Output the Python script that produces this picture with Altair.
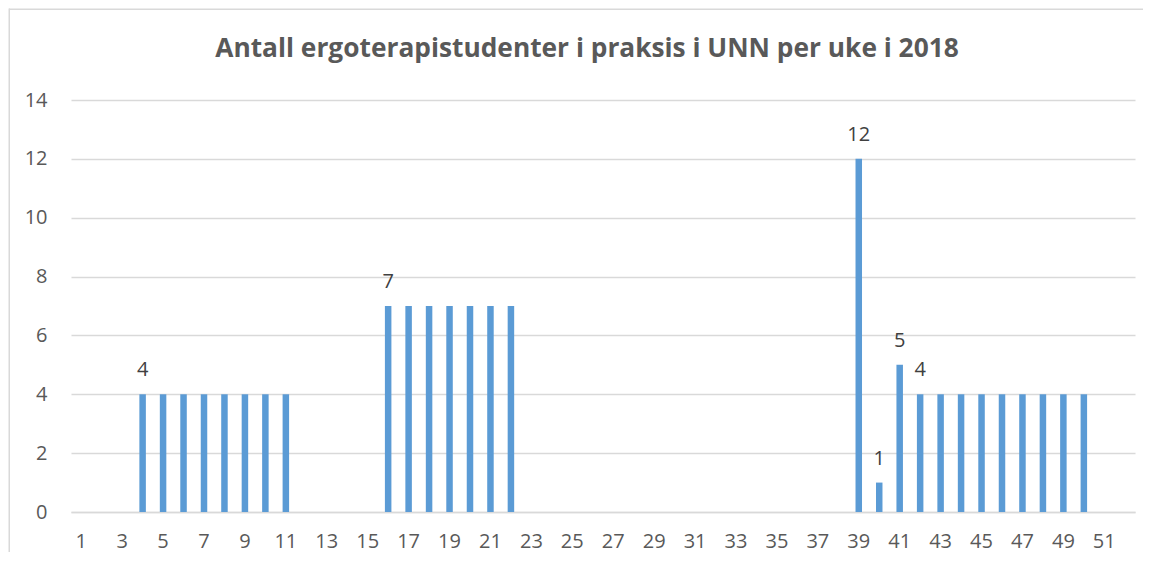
import altair as alt
import pandas as pd

weeks = list(range(1, 53))
students = [0, 0, 0, 4, 4, 4, 4, 4, 4, 4, 4, 0, 0, 0, 0, 7, 7, 7, 7, 7, 7, 7,
            0, 0, 0, 0, 0, 0, 0, 0, 0, 0, 0, 0, 0, 0, 0, 0, 12, 1, 5, 4, 4, 4,
            4, 4, 4, 4, 4, 4, 0, 0]
label_weeks = [4, 16, 39, 40, 41, 42]
tick_weeks = list(range(1, 53, 2))
title_text = "Antall ergoterapistudenter i praksis i UNN per uke i 2018"

df = pd.DataFrame({"uke": weeks, "antall": students})
df["show"] = df["uke"].isin(label_weeks)

FONT = "Open Sans"
GREY = "#595959"

x = alt.X("uke:O", sort=weeks, scale=alt.Scale(paddingInner=0, paddingOuter=0),
          axis=alt.Axis(values=tick_weeks, labelAngle=0, ticks=False, title=None,
                        labelPadding=19, labelFontSize=20, labelColor=GREY,
                        labelFont=FONT, domainColor="#d9d9d9", domainWidth=1.5,
                        grid=False))
y = alt.Y("antall:Q", scale=alt.Scale(domain=[0, 14], nice=False),
          axis=alt.Axis(values=list(range(0, 15, 2)), ticks=False, domain=False,
                        title=None, labelPadding=24, labelFontSize=20,
                        labelColor=GREY, labelFont=FONT, gridColor="#d9d9d9",
                        gridWidth=1.5))

bars = alt.Chart(df).mark_bar(size=6.5, color="#5b9bd5").encode(x=x, y=y)

labels = alt.Chart(df).transform_filter("datum.show").mark_text(
    dy=-18, baseline="alphabetic", fontSize=20, font=FONT, color="#404040"
).encode(x=alt.X("uke:O", sort=weeks), y="antall:Q", text="antall:Q")

frame_src = alt.Chart(df).transform_filter("datum.uke == 1")
top_line = frame_src.mark_rect(color="#d9d9d9", strokeWidth=0).encode(
    x=alt.value(-62), x2=alt.value(1072), y=alt.value(-91.5), y2=alt.value(-90))
left_line = frame_src.mark_rect(color="#d9d9d9", strokeWidth=0).encode(
    x=alt.value(-62.5), x2=alt.value(-61), y=alt.value(-91.5), y2=alt.value(452))

chart = alt.layer(top_line, left_line, bars, labels).properties(
    width=1064, height=412,
    title=alt.TitleParams(title_text, font=FONT, fontSize=26.3, fontWeight="bold",
                          color=GREY, anchor="middle", frame="group", dx=-16,
                          offset=37, dy=91),
    autosize=alt.AutoSizeParams(type="none"),
    padding={"left": 63, "top": 92, "right": 8, "bottom": 40},
).configure_view(stroke=None)

chart.save("out.html", embed_options={"renderer": "svg", "actions": False})
